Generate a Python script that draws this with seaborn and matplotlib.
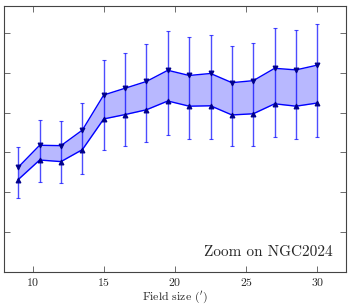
import numpy as np
import seaborn as sns
import matplotlib.pyplot as plt

# field sizes (arcmin) and the two curves
field_size = [9, 10.5, 12, 13.5, 15, 16.5, 18, 19.5, 21, 22.5, 24, 25.5, 27, 28.5, 30]
upper = [2.63, 3.18, 3.17, 3.56, 4.44, 4.61, 4.78, 5.06, 4.93, 4.98, 4.75, 4.80, 5.11, 5.07, 5.19]
lower = [2.32, 2.81, 2.77, 3.07, 3.84, 3.95, 4.07, 4.29, 4.16, 4.17, 3.94, 3.97, 4.22, 4.16, 4.24]
# error bar extents
err_top = [3.13, 3.81, 3.79, 4.24, 5.31, 5.50, 5.71, 6.05, 5.90, 5.95, 5.68, 5.74, 6.12, 6.06, 6.21]
err_bot = [1.86, 2.25, 2.23, 2.47, 3.06, 3.17, 3.26, 3.44, 3.34, 3.34, 3.17, 3.17, 3.39, 3.34, 3.39]

sns.set_style('ticks')
plt.rcParams['font.family'] = 'serif'
plt.rcParams['font.serif'] = ['cmr10', 'DejaVu Serif']
plt.rcParams['mathtext.fontset'] = 'cm'
plt.rcParams['axes.formatter.use_mathtext'] = True

fig, ax = plt.subplots(figsize=(3.49, 3.05), dpi=100)
fig.subplots_adjust(left=0.0115, right=0.991, top=0.98, bottom=0.108)

top = np.array(err_top)
bot = np.array(err_bot)
ax.errorbar(field_size, (top + bot) / 2, yerr=(top - bot) / 2, fmt='none',
            ecolor='blue', elinewidth=1, capsize=1.5, capthick=0.8, alpha=0.7)
ax.fill_between(field_size, lower, upper, color='blue', alpha=0.28, lw=0)
sns.lineplot(x=field_size, y=upper, color='blue', marker='v', markersize=3.5,
             markeredgecolor='darkblue', markerfacecolor='darkblue', lw=1, ax=ax)
sns.lineplot(x=field_size, y=lower, color='blue', marker='^', markersize=3.5,
             markeredgecolor='darkblue', markerfacecolor='darkblue', lw=1, ax=ax)

ax.set_xlim(8, 32)
ax.set_ylim(0, 6.67)
ax.set_xticks([10, 15, 20, 25, 30])
ax.set_yticks(range(0, 7))
ax.set_yticklabels([])
ax.tick_params(direction='in', top=True, right=True, length=4, width=0.6,
               labelsize=8.5, pad=3, color='#555555')
for s in ax.spines.values():
    s.set_linewidth(0.8)
    s.set_color('#444444')
ax.set_xlabel("Field size ($'$)", fontsize=8.5, labelpad=0.5)
ax.text(0.962, 0.05, 'Zoom on NGC2024', transform=ax.transAxes,
        ha='right', va='bottom', fontsize=11)

plt.savefig('out.png', dpi=100)
